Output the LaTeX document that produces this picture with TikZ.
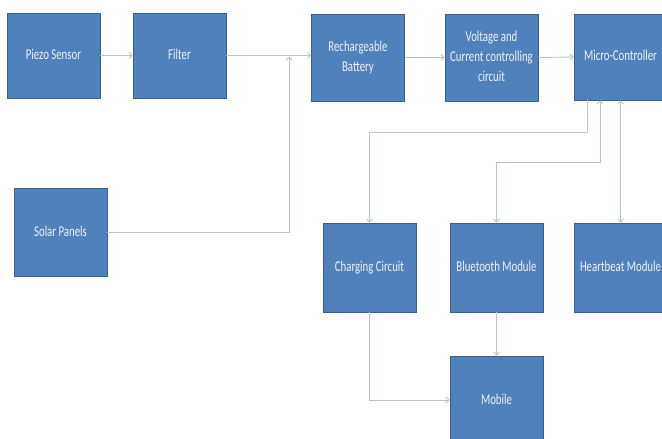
\documentclass[tikz,border=0pt]{standalone}
\usepackage{fontspec}
\setmainfont{Carlito}
\usetikzlibrary{arrows.meta}
\definecolor{azul}{HTML}{4F81BD}
\definecolor{borde}{HTML}{3A5F8C}
\definecolor{linea}{HTML}{B8C3CF}
\definecolor{texto}{HTML}{EEF2F8}
% rotulo de bloque, comprimido en x
% #1: texto (lineas separadas con \\)
\newcommand{\rotulo}[1]{\scalebox{0.72}[1]{\begin{tabular}{@{}c@{}}#1\end{tabular}}}
\begin{document}
\begin{tikzpicture}[x=1pt,y=-1pt]
% estilos de bloque y conector
\tikzstyle{bloque} = [rectangle,draw=borde,line width=0.9pt,fill=azul,text=texto,
  minimum width=93pt,minimum height=87pt,inner sep=0pt,font=\fontsize{15}{20}\selectfont]
\tikzstyle{flecha} = [draw=linea,line width=0.9pt,-{Straight Barb[length=3pt,width=6pt]}]
\tikzstyle{dflecha} = [draw=linea,line width=0.9pt,{Straight Barb[length=3pt,width=6pt]}-{Straight Barb[length=3pt,width=6pt]}]
\useasboundingbox (0,0) rectangle (662,439);
\fill[white] (0,0) rectangle (662,439);
% dibujar bloques
\node[bloque,minimum height=85pt] (piezo) at (53.5,55.5) {\rotulo{Piezo Sensor}};
\node[bloque,minimum height=85pt] (filtro) at (179.5,55.5) {\rotulo{Filter}};
\node[bloque] (bateria) at (358,57.5) {\rotulo{Rechargeable\\Battery}};
\node[bloque] (voltaje) at (491.5,57.5) {\rotulo{Voltage and\\Current controlling\\circuit}};
\node[bloque,minimum height=86pt] (micro) at (620.5,57) {\rotulo{Micro-Controller}};
\node[bloque,minimum height=88pt] (solar) at (60.5,232) {\rotulo{Solar Panels}};
\node[bloque,minimum height=89pt] (carga) at (369.5,267.5) {\rotulo{Charging Circuit}};
\node[bloque,minimum height=89pt] (bluetooth) at (496.5,267.5) {\rotulo{Bluetooth Module}};
\node[bloque,minimum height=89pt] (latido) at (620.5,267.5) {\rotulo{Heartbeat Module}};
\node[bloque,minimum height=88pt] (movil) at (496.5,400) {\rotulo{Mobile}};
% dibujar conectores
\coordinate (union) at (289,56.5);
\draw[flecha] (piezo.east) -- (filtro.west);
\draw[flecha] (filtro.east) -- (filtro.east -| bateria.west);
\draw[flecha] (solar.east) -| (union);
\draw[flecha] (bateria.east) -- (voltaje.west);
\draw[flecha] (voltaje.east) -- (micro.west);
\draw[flecha] ([xshift=-33.5pt]micro.south) -- ++(0,32) -| (carga.north);
\draw[dflecha] ([xshift=-20.5pt]micro.south) -- ++(0,62) -| (bluetooth.north);
\draw[dflecha] (micro.south) -- (latido.north);
\draw[flecha] (carga.south) |- (movil.west);
\draw[flecha] (bluetooth.south) -- (movil.north);
\end{tikzpicture}
\end{document}
